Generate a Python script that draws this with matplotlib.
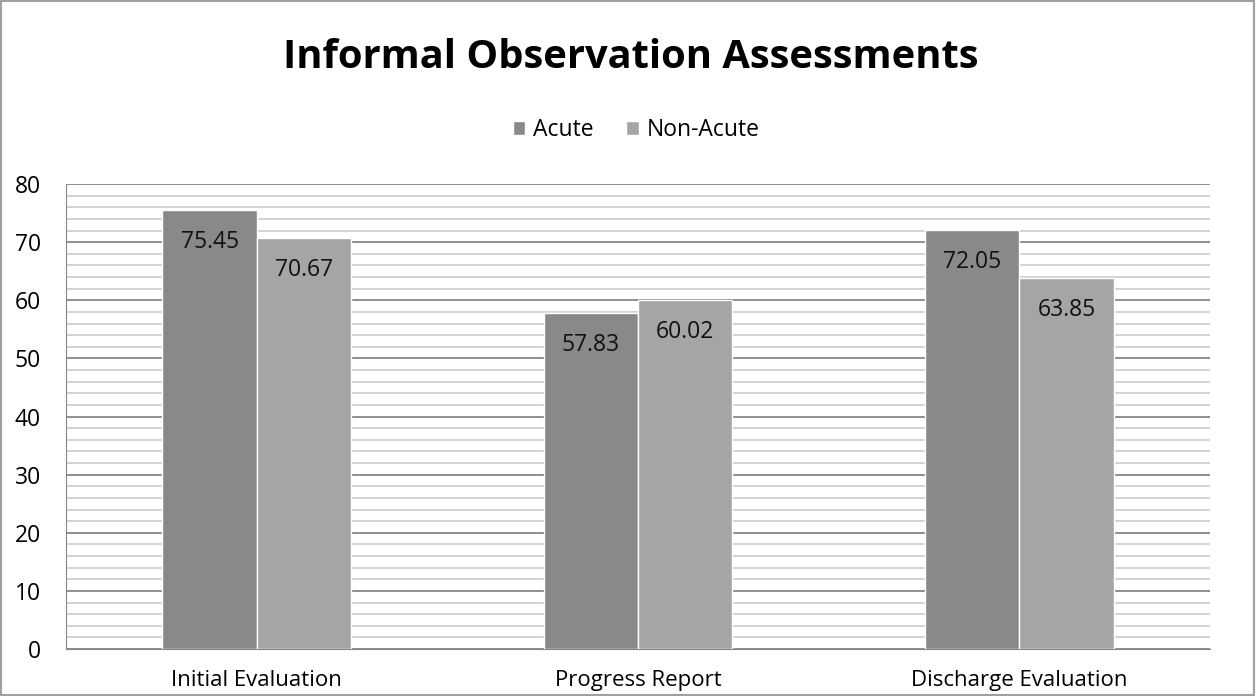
import matplotlib.pyplot as plt
from matplotlib.patches import Rectangle
import numpy as np

categories = ["Initial Evaluation", "Progress Report", "Discharge Evaluation"]
acute = [75.45, 57.83, 72.05]
non_acute = [70.67, 60.02, 63.85]
series_names = ["Acute", "Non-Acute"]
colors = ["#898989", "#a5a5a5"]

plt.rcParams['font.family'] = ['Open Sans', 'DejaVu Sans']

fig = plt.figure(facecolor='w', figsize=(12.57, 6.96), dpi=100)
ax = fig.add_axes([0.0525, 0.0675, 0.9101, 0.6681])

x = np.arange(len(categories))
w = 0.247
b1 = ax.bar(x - w / 2, acute, w, color=colors[0], edgecolor='white', lw=1, label=series_names[0], zorder=3)
b2 = ax.bar(x + w / 2, non_acute, w, color=colors[1], edgecolor='white', lw=1, label=series_names[1], zorder=3)

for bars in (b1, b2):
    for r in bars:
        ax.annotate(f"{r.get_height():.2f}", (r.get_x() + r.get_width() / 2, r.get_height()),
                    xytext=(0, -23), textcoords='offset points', ha='center', va='center',
                    fontsize=16.5, color='#111111', zorder=4)

ax.set_xlim(-0.5, 2.5)
ax.set_ylim(0, 80)
ax.set_yticks(range(0, 81, 10))
ax.set_yticks(range(0, 81, 2), minor=True)
ax.yaxis.grid(True, which='major', color='#868686', lw=1.3, zorder=0)
ax.yaxis.grid(True, which='minor', color='#d0d0d0', lw=1.3, zorder=0)
ax.set_xticks(x)
ax.set_xticklabels(categories)
ax.tick_params(axis='x', length=0, labelsize=16, pad=15)
ax.tick_params(axis='y', which='both', length=0, labelsize=16.5, pad=18)
for s in ['top', 'right']:
    ax.spines[s].set_visible(False)
ax.spines['left'].set_color('#868686')
ax.spines['bottom'].set_color('#868686')

fig.text(0.502, 0.917, "Informal Observation Assessments", ha='center', va='center',
         fontsize=28.7, fontweight='bold')
fig.legend(loc='center', bbox_to_anchor=(0.506, 0.813), ncol=2, frameon=False,
           fontsize=16.5, handlelength=0.55, handleheight=0.55, handletextpad=0.35, columnspacing=1.4)

fig.patches.append(Rectangle((0.001, 0.001), 0.997, 0.997, transform=fig.transFigure,
                             fill=False, edgecolor='#a0a0a0', lw=1.5))

plt.savefig('out.png')
